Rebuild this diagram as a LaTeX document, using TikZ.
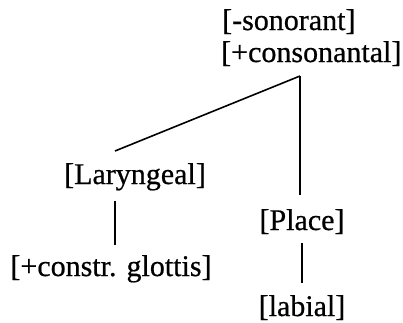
\documentclass[tikz,border=0pt]{standalone}
\usepackage{fontspec}
\setmainfont[FakeBold=0.6]{Liberation Serif}
\begin{document}
\begin{tikzpicture}[x=1pt,y=-1pt,
  lbl/.style={inner sep=0pt,font=\fontsize{30}{33}\selectfont},
  edge/.style={line width=1.6pt}]
\useasboundingbox (0,0) rectangle (403,322);
\node[lbl,anchor=base west] (root) at (222,30) {[-sonorant]};
\node[lbl,anchor=base west] (root2) at (221,62) {[+consonantal]};
\node[lbl,anchor=base] (lar) at (135,184) {[Laryngeal]};
\node[lbl,anchor=base] (cg) at (111,276) {[+constr. glottis]};
\node[lbl,anchor=base] (pl) at (302,230) {[Place]};
\node[lbl,anchor=base] (lab) at (302,316) {[labial]};
\coordinate (apex) at (300,76);
\coordinate (larT) at (115,151);
\coordinate (larB) at (115,201);
\coordinate (cgT) at (115,245);
\coordinate (plT) at (300,195);
\coordinate (plB) at (302,243);
\coordinate (labT) at (302,283);
\draw[edge] (apex) -- (larT);
\draw[edge] (apex) -- (plT);
\draw[line width=1.2pt] (larB) -- (cgT);
\draw[edge] (plB) -- (labT);
\end{tikzpicture}
\end{document}
